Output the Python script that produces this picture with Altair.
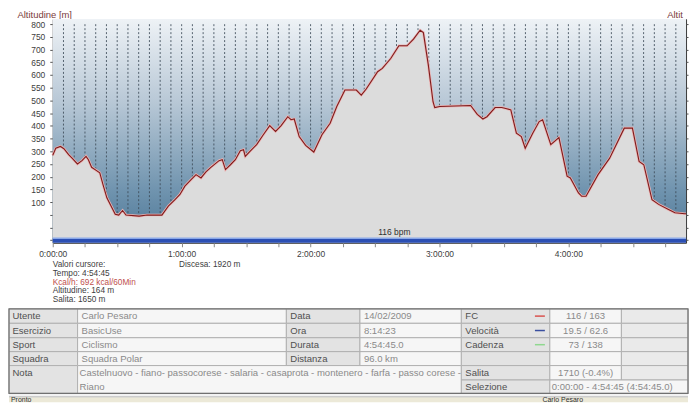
import pandas as pd
import altair as alt

# profilo altimetrico: minuti dalla partenza, quota in metri
minutes = [0, 1.4, 3.6, 5.2, 7.4, 9.0, 11.5, 13.6, 15.5, 16.6, 18.1, 20.4, 21.9, 23.4, 25.2,
           27.2, 29.1, 30.7, 32.5, 34.1, 40.2, 43.9, 50.8, 53.8, 56.9, 59.2, 61.5, 64.5, 66.7,
           69.0, 71.3, 73.6, 77.4, 78.9, 80.4, 82.7, 85.0, 87.3, 88.8, 89.6, 91.8, 94.9, 98.0,
           101.0, 103.7, 106.3, 109.4, 110.9, 112.4, 114.7, 117.7, 121.5, 125.3, 129.1, 132.2,
           136.0, 141.3, 143.6, 145.9, 151.2, 153.4, 157.3, 161.1, 164.9, 167.9, 171.0, 172.5,
           174.8, 177.0, 177.8, 180.1, 194.5, 197.6, 200.2, 202.1, 205.9, 209.0, 211.3, 213.2,
           215.8, 218.1, 219.9, 223.4, 226.4, 228.0, 231.8, 235.6, 239.4, 240.9, 244.7, 246.2,
           248.2, 253.8, 259.2, 266.0, 269.8, 272.9, 275.1, 278.9, 282.0, 286.6, 289.6, 294.2,
           294.75]
altitude = [284, 312, 319, 310, 287, 273, 250, 263, 280, 267, 237, 224, 215, 169, 117,
            84, 52, 49, 67, 49, 45, 49, 49, 84, 110, 130, 163, 189, 208,
            195, 219, 237, 263, 267, 228, 247, 267, 302, 306, 280, 300, 326, 365,
            401, 378, 401, 436, 424, 427, 358, 323, 297, 365, 410, 476,
            541, 541, 521, 545, 613, 626, 665, 715, 715, 741, 776, 767,
            640, 495, 472, 476, 480, 445, 427, 436, 472, 472, 467, 463,
            371, 358, 312, 371, 417, 424, 326, 354, 202, 195, 136, 123,
            123, 208, 273, 391, 391, 260, 247, 110, 91, 71, 58, 54,
            54]

t_end = 294.75          # 4:54:45
alt_lo, alt_hi = -60, 820
hr_avg = 116
axis_title = 'Altitudine [m]'

cursor_lines = ['Valori cursore:', 'Tempo: 4:54:45', 'Kcal/h: 692 kcal/60Min',
                'Altitudine: 164 m', 'Salita: 1650 m']
descent_text = 'Discesa: 1920 m'

left_labels = ['Utente', 'Esercizio', 'Sport', 'Squadra', 'Nota']
left_values = ['Carlo Pesaro', 'BasicUse', 'Ciclismo', 'Squadra Polar']
note_lines = ['Castelnuovo - fiano- passocorese - salaria - casaprota - montenero - farfa - passo corese -',
              'Riano']
mid_labels = ['Data', 'Ora', 'Durata', 'Distanza']
mid_values = ['14/02/2009', '8:14:23', '4:54:45.0', '96.0 km']
series_labels = ['FC', 'Velocità', 'Cadenza', '']
series_colors = ['#d9534f', '#3a4fa0', '#8fd88f']
series_values = ['116 / 163', '19.5 / 62.6', '73 / 138', '']
climb_label, climb_value = 'Salita', '1710 (-0.4%)'
sel_label, sel_value = 'Selezione', '0:00:00 - 4:54:45 (4:54:45.0)'
status_left, status_mid = 'Pronto', 'Carlo Pesaro'

FONT = 'Liberation Sans'
TITLE_C = '#7a3b3b'
PLOT_W = 637

# ---------------- grafico altimetria ----------------
prof = pd.DataFrame({'t': minutes, 'alt': altitude})
prof['base'] = alt_lo
frame = pd.DataFrame({'t0': [0], 't1': [t_end], 'a0': [alt_lo], 'a1': [alt_hi],
                      'title': [axis_title]})
grid = pd.DataFrame({'t': list(range(5, 295, 5))})
grid['top'] = 800
grid['bot'] = alt_lo
band = pd.DataFrame({'t0': [0], 't1': [t_end], 'a0': [alt_lo], 'a1': [-42],
                     'mid': [159], 'label': [f'{hr_avg} bpm']})

xs = alt.Scale(domain=[0, t_end], nice=False, zero=False)
ys = alt.Scale(domain=[alt_lo, alt_hi], nice=False, zero=False)

x_axis = alt.Axis(values=list(range(0, 295, 15)),
                  labelExpr="datum.value % 60 == 0 ? floor(datum.value / 60) + ':00:00' : ''",
                  title=None, grid=False, domain=False, tickSize=4, tickColor='#888',
                  labelColor='#404040', labelFontSize=8.5, labelPadding=3,
                  labelFlush=False, labelOverlap=False)
y_axis = alt.Axis(values=list(range(-50, 801, 50)),
                  labelExpr="datum.value >= 100 ? datum.value : ''",
                  title=axis_title, titleAngle=0, titleAlign='left',
                  titleBaseline='alphabetic', titleX=-36, titleY=-1.5,
                  titleFontSize=9.5, titleFontWeight='normal', titleColor=TITLE_C,
                  grid=False, domain=False, tickSize=3, tickColor='#555',
                  labelColor='#404040', labelFontSize=8.5, labelPadding=5,
                  labelFlush=False, labelOverlap=False, minExtent=0)
y_axis_r = alt.Axis(orient='right', values=list(range(-50, 801, 50)), labels=False,
                    title=None, grid=False, domain=False, tickSize=2, tickColor='#555',
                    labelPadding=0, minExtent=0, maxExtent=2)

sky = alt.LinearGradient(gradient='linear', x1=0, x2=0, y1=0, y2=1, stops=[
    alt.GradientStop(offset=0, color='#eef2f6'),
    alt.GradientStop(offset=0.37, color='#b8c8d6'),
    alt.GradientStop(offset=0.77, color='#6f93ae'),
    alt.GradientStop(offset=1, color='#4c7696'),
])

bg = alt.Chart(frame).mark_rect(color=sky).encode(
    x=alt.X('t0:Q', scale=xs, axis=x_axis), x2='t1:Q',
    y=alt.Y('a1:Q', scale=ys, axis=y_axis), y2='a0:Q')

# titolo dell'asse destro, tagliato dal bordo della finestra come nell'originale
right_title = alt.Chart(frame).mark_text(font=FONT, fontSize=9.5, fill=TITLE_C, align='left',
                                         baseline='alphabetic', dx=-19, dy=-1.5,
                                         limit=20, ellipsis='\u200b').encode(
    x=alt.X('t1:Q', scale=xs, axis=x_axis),
    y=alt.Y('a1:Q', scale=ys, axis=y_axis), text='title:N')

rules = alt.Chart(grid).mark_rule(color='#3d4b58', strokeDash=[2, 2], strokeWidth=1, opacity=0.85).encode(
    x=alt.X('t:Q', scale=xs, axis=x_axis),
    y=alt.Y('top:Q', scale=ys, axis=y_axis), y2='bot:Q')

area = alt.Chart(prof).mark_area(color='#dcdcdc').encode(
    x=alt.X('t:Q', scale=xs, axis=x_axis),
    y=alt.Y('alt:Q', scale=ys, axis=y_axis), y2='base:Q')

halo = alt.Chart(prof).mark_line(color='#ecb4b4', strokeWidth=2.6).encode(
    x=alt.X('t:Q', scale=xs, axis=x_axis),
    y=alt.Y('alt:Q', scale=ys, axis=y_axis))

hr_band = alt.Chart(band).mark_rect(color='#2b4fb4').encode(
    x=alt.X('t0:Q', scale=xs, axis=x_axis), x2='t1:Q',
    y=alt.Y('a1:Q', scale=ys, axis=y_axis), y2='a0:Q')

hr_top = alt.Chart(band).mark_rule(color='#8aa8e8', strokeWidth=1.5).encode(
    x=alt.X('t0:Q', scale=xs, axis=x_axis), x2='t1:Q',
    y=alt.Y('a1:Q', scale=ys, axis=y_axis))

hr_text = alt.Chart(band).mark_text(font=FONT, fontSize=8.5, color='#303030',
                                    baseline='bottom', dy=-1).encode(
    x=alt.X('mid:Q', scale=xs, axis=x_axis),
    y=alt.Y('a1:Q', scale=ys, axis=y_axis), text='label:N')

line = alt.Chart(prof).mark_line(color='#7d1b1b', strokeWidth=1.1).encode(
    x=alt.X('t:Q', scale=xs, axis=x_axis),
    y=alt.Y('alt:Q', scale=ys, axis=y_axis_r))

inner = alt.layer(bg, rules, area, halo, hr_band, hr_top, hr_text, right_title)
profile = alt.layer(inner, line).resolve_scale(y='independent').properties(
    width=PLOT_W, height=225, view=alt.ViewBackground(stroke='#333333', strokeWidth=1))

# ---------------- valori cursore + tabella ----------------
# bordi in pixel della finestra; la pagina ha 8px di margine per lato
col_x = [8, 77, 287, 361, 463, 552, 624, 691]
row_y = [309, 323.5, 338, 352, 366, 380.5, 394]
L, V, G = '#e3e3e3', '#f6f6f6', '#eaeaea'
kinds = [L, V, L, V, L, V, G]

cells = []
for r in range(4):
    for c in range(7):
        cells.append((col_x[c], col_x[c + 1], row_y[r], row_y[r + 1], kinds[c]))
cells += [
    (col_x[0], col_x[1], row_y[4], row_y[6], L),
    (col_x[1], col_x[4], row_y[4], row_y[6], V),
    (col_x[4], col_x[5], row_y[4], row_y[5], L),
    (col_x[5], col_x[6], row_y[4], row_y[5], V),
    (col_x[6], col_x[7], row_y[4], row_y[5], G),
    (col_x[4], col_x[5], row_y[5], row_y[6], L),
    (col_x[5], col_x[7], row_y[5], row_y[6], V),
]
cells_df = pd.DataFrame(cells, columns=['x0', 'x1', 'y0', 'y1', 'fill'])

status = pd.DataFrame([
    (8, 691, 394, 397, '#f2f2f2'),
    (8, 691, 397, 398, '#a0a0a0'),
    (8, 691, 398, 403, '#ece9d8'),
], columns=['x0', 'x1', 'y0', 'y1', 'fill'])

outer = pd.DataFrame({'x0': [col_x[0]], 'x1': [col_x[-1]], 'y0': [row_y[0]], 'y1': [row_y[-1]]})

lab_c, val_c = '#505050', '#8a8a8a'
mids = [(row_y[r] + row_y[r + 1]) / 2 for r in range(4)]
texts = []
for i, s in enumerate(cursor_lines):
    texts.append((52, 264.5 + 9 * i, s, '#c0504d' if s.startswith('Kcal') else '#404040', 8.3))
texts.append((179, 264.5, descent_text, '#404040', 8.3))
for r in range(4):
    texts.append((col_x[0] + 3.5, mids[r], left_labels[r], lab_c, 9.6))
    texts.append((col_x[1] + 4, mids[r], left_values[r], val_c, 9.6))
    texts.append((col_x[2] + 4, mids[r], mid_labels[r], lab_c, 9.6))
    texts.append((col_x[3] + 4, mids[r], mid_values[r], val_c, 9.6))
    texts.append((col_x[4] + 4, mids[r], series_labels[r], lab_c, 9.6))
texts.append((col_x[0] + 3.5, row_y[4] + 7, left_labels[4], lab_c, 9.6))
texts.append((col_x[1] + 2, row_y[4] + 7, note_lines[0], val_c, 9.6))
texts.append((col_x[1] + 2, row_y[5] + 6.8, note_lines[1], val_c, 9.6))
texts.append((col_x[4] + 4, (row_y[4] + row_y[5]) / 2, climb_label, lab_c, 9.6))
texts.append((col_x[4] + 4, (row_y[5] + row_y[6]) / 2, sel_label, lab_c, 9.6))
texts.append((col_x[5] + 2, (row_y[5] + row_y[6]) / 2, sel_value, val_c, 9.6))
texts.append((10, 400.8, status_left, '#303030', 7))
texts_df = pd.DataFrame(texts, columns=['x', 'y', 'text', 'color', 'size'])

centre = [((col_x[5] + col_x[6]) / 2, mids[r], series_values[r], val_c, 9.6) for r in range(4)]
centre.append(((col_x[5] + col_x[6]) / 2, (row_y[4] + row_y[5]) / 2, climb_value, val_c, 9.6))
centre.append((565, 400.8, status_mid, '#303030', 7))
centre_df = pd.DataFrame(centre, columns=['x', 'y', 'text', 'color', 'size'])

dash_df = pd.DataFrame({'x0': [537] * 3, 'x1': [547] * 3, 'y': mids[:3], 'color': series_colors})

sx = alt.Scale(domain=[8, 700], range=[-44, 648], nice=False, zero=False)
sy = alt.Scale(domain=[250, 403], range=[0, 153], nice=False, zero=False)


def rects(df, **kw):
    return alt.Chart(df).mark_rect(**kw).encode(
        x=alt.X('x0:Q', scale=sx, axis=None), x2='x1:Q',
        y=alt.Y('y0:Q', scale=sy, axis=None), y2='y1:Q',
        color=alt.Color('fill:N', scale=None))


def words(df, align):
    return alt.Chart(df).mark_text(font=FONT, align=align, baseline='middle').encode(
        x=alt.X('x:Q', scale=sx, axis=None),
        y=alt.Y('y:Q', scale=sy, axis=None),
        text='text:N',
        color=alt.Color('color:N', scale=None),
        size=alt.Size('size:Q', scale=None))


status_l = rects(status)
cells_l = rects(cells_df, stroke='#b0b0b0', strokeWidth=1)
outer_l = alt.Chart(outer).mark_rect(fillOpacity=0, stroke='#707070', strokeWidth=1.2).encode(
    x=alt.X('x0:Q', scale=sx, axis=None), x2='x1:Q',
    y=alt.Y('y0:Q', scale=sy, axis=None), y2='y1:Q')
dash_l = alt.Chart(dash_df).mark_rule(strokeWidth=1.5).encode(
    x=alt.X('x0:Q', scale=sx, axis=None), x2='x1:Q',
    y=alt.Y('y:Q', scale=sy, axis=None),
    color=alt.Color('color:N', scale=None))

info = alt.layer(status_l, cells_l, outer_l, dash_l, words(texts_df, 'left'),
                 words(centre_df, 'center')).properties(
    width=PLOT_W, height=153, view=alt.ViewBackground(strokeOpacity=0))

chart = alt.vconcat(profile, info, spacing=7.5, bounds='flush').properties(
    padding=0).configure(font=FONT)

chart.save("out.html", embed_options={"renderer": "svg", "actions": False})
